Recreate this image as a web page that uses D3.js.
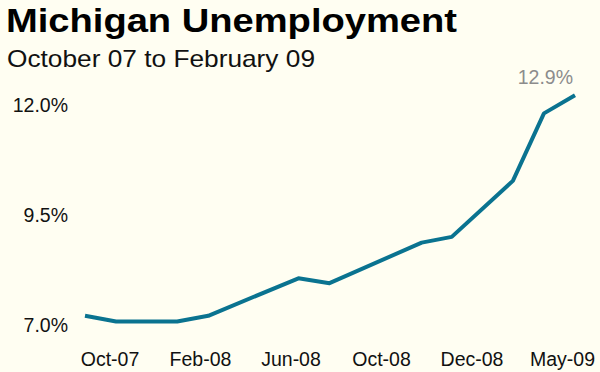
<!DOCTYPE html>
<html>
<head>
<meta charset="utf-8">
<script src="https://cdn.jsdelivr.net/npm/d3@7"></script>
<style>
  html, body { margin: 0; padding: 0; background: #fffef2; }
  svg { display: block; font-family: "Liberation Sans", Arial, sans-serif; }
</style>
</head>
<body>
<svg id="chart" width="600" height="372"></svg>
<script>
// months (month index from Oct-07)
const months = ["2007-10", "2007-11", "2008-01", "2008-02", "2008-05", "2008-06",
                "2008-09", "2008-10", "2008-12", "2009-01", "2009-02"];
const rates = [7.22, 7.09, 7.09, 7.22, 8.07, 7.96, 8.88, 9.01, 10.28, 11.81, 12.22];

const yTicks = [7.0, 9.5, 12.0];
const xLabels = ["Oct-07", "Feb-08", "Jun-08", "Oct-08", "Dec-08", "May-09"];
const lastLabel = "12.9%";

const parseMonth = d3.timeParse("%Y-%m");
const data = months.map((m, i) => ({ date: parseMonth(m), value: rates[i] }));

const svg = d3.select("#chart");

// background
svg.append("rect").attr("width", 600).attr("height", 372).attr("fill", "#fffef2");

// title block (original text is a bit stretched sideways)
svg.append("text")
  .attr("x", 6).attr("y", 32)
  .attr("font-size", 34).attr("font-weight", "bold").attr("fill", "#000")
  .attr("textLength", 451).attr("lengthAdjust", "spacingAndGlyphs")
  .text("Michigan Unemployment");

svg.append("text")
  .attr("x", 7).attr("y", 66.5)
  .attr("font-size", 24).attr("fill", "#111")
  .attr("textLength", 308).attr("lengthAdjust", "spacingAndGlyphs")
  .text("October 07 to February 09");

// scales
const x = d3.scaleTime()
  .domain(d3.extent(data, d => d.date))
  .range([85, 575]);

const y = d3.scaleLinear()
  .domain([7.0, 12.0])
  .range([325.5, 105]);

// category labels along bottom (evenly spaced, as in the original)
const xCat = d3.scalePoint()
  .domain(xLabels)
  .range([109.5, 562]);

// y axis labels
const yAxis = d3.axisLeft(y)
  .tickValues(yTicks)
  .tickSize(0)
  .tickPadding(0)
  .tickFormat(d => d3.format(".1f")(d) + "%");

svg.append("g")
  .attr("transform", "translate(68,0)")
  .call(yAxis)
  .call(g => g.select(".domain").remove())
  .call(g => g.selectAll("text")
    .attr("font-size", 19.5)
    .attr("font-family", "Liberation Sans, Arial, sans-serif")
    .attr("fill", "#111"));

// x axis labels
const xAxis = d3.axisBottom(xCat)
  .tickSize(0)
  .tickPadding(0);

svg.append("g")
  .attr("transform", "translate(0,352)")
  .call(xAxis)
  .call(g => g.select(".domain").remove())
  .call(g => g.selectAll("text")
    .attr("dy", "0.71em")
    .attr("font-size", 19.5)
    .attr("font-family", "Liberation Sans, Arial, sans-serif")
    .attr("fill", "#111"));

// the line
const line = d3.line()
  .x(d => x(d.date))
  .y(d => y(d.value));

svg.append("path")
  .datum(data)
  .attr("fill", "none")
  .attr("stroke", "#0a7390")
  .attr("stroke-width", 4)
  .attr("stroke-linejoin", "round")
  .attr("d", line);

// end annotation
const last = data[data.length - 1];
svg.append("text")
  .attr("x", x(last.date) - 2)
  .attr("y", y(last.value) - 11)
  .attr("text-anchor", "end")
  .attr("font-size", 19.5)
  .attr("fill", "#8c8c8c")
  .text(lastLabel);
</script>
</body>
</html>
